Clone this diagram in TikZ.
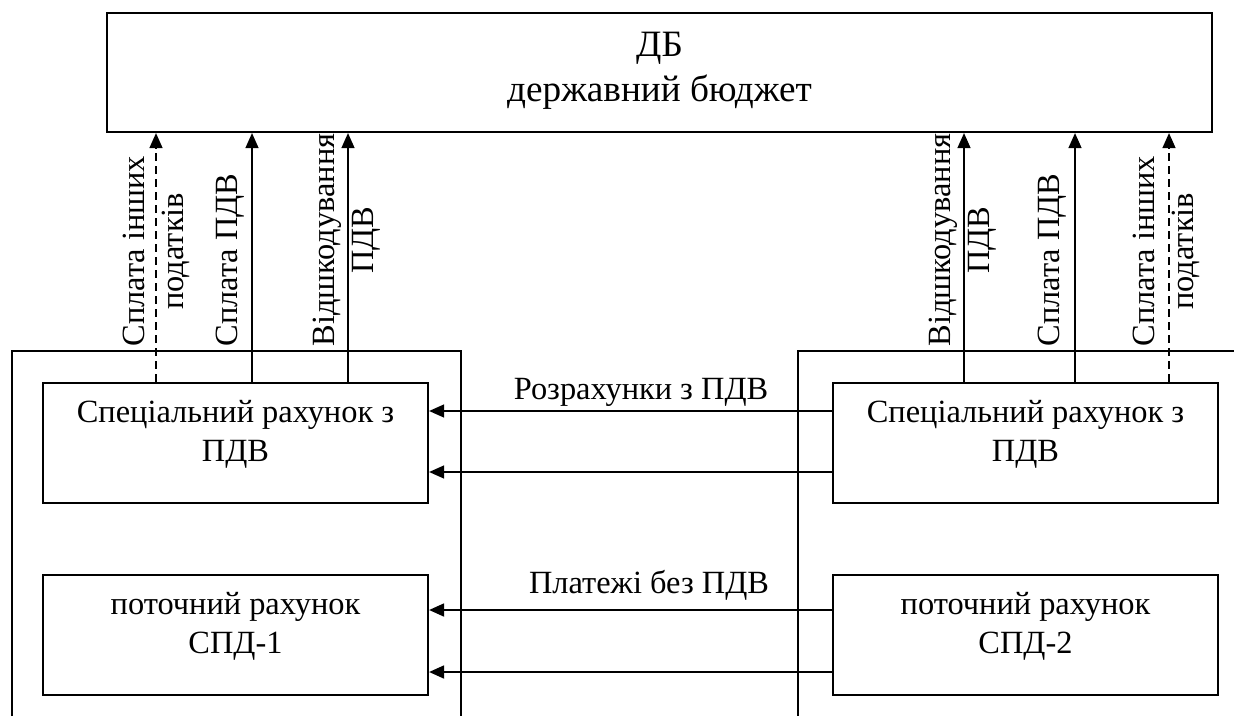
\documentclass[tikz,border=0pt]{standalone}
\usepackage{fontspec}
\setmainfont{Liberation Serif}
\usetikzlibrary{arrows.meta}
\tikzset{
  box/.style={draw, line width=1.1pt, inner sep=0pt},
  lbl/.style={inner sep=0pt, align=center, font=\fontsize{16.2}{19.5}\selectfont},
  biglbl/.style={inner sep=0pt, align=center, font=\fontsize{18.6}{22.5}\selectfont},
  vlbl/.style={lbl, rotate=90, anchor=west},
  arr/.style={line width=0.7pt, -{Triangle[length=7.5pt,width=6.5pt]}},
  thickarr/.style={arr, line width=0.9pt},
  dasharr/.style={arr, dash pattern=on 4pt off 2.5pt},
  frame/.style={line width=1.1pt},
}
\begin{document}
\begin{tikzpicture}[x=0.5pt,y=-0.5pt]
\useasboundingbox (0,0) rectangle (1234,716);
% outer frames
\draw[frame] (12,716) -- (12,351) -- (461,351) -- (461,716);
\draw[frame] (1234,351) -- (798,351) -- (798,716);
% boxes
\node[box, minimum width=552.5pt, minimum height=59.5pt] (db) at (659.5,72.5) {};
\node[biglbl, anchor=base] (dbt) at (659.5,102) {ДБ\\державний бюджет};
\node[box, minimum width=192.5pt, minimum height=60pt] (s1) at (235.5,443) {};
\node[box, minimum width=192.5pt, minimum height=60pt] (p1) at (235.5,635) {};
\node[box, minimum width=192.5pt, minimum height=60pt] (s2) at (1025.5,443) {};
\node[box, minimum width=192.5pt, minimum height=60pt] (p2) at (1025.5,635) {};
\node[lbl, anchor=base] (s1t) at (235.5,461) {Спеціальний рахунок з\\ПДВ};
\node[lbl, anchor=base] (p1t) at (235.5,653) {поточний рахунок\\СПД-1};
\node[lbl, anchor=base] (s2t) at (1025.5,461) {Спеціальний рахунок з\\ПДВ};
\node[lbl, anchor=base] (p2t) at (1025.5,653) {поточний рахунок\\СПД-2};
% x positions of vertical arrows
\coordinate (xa) at (156,0);
\coordinate (xb) at (252,0);
\coordinate (xc) at (348,0);
\coordinate (xd) at (964,0);
\coordinate (xe) at (1075,0);
\coordinate (xf) at (1169,0);
\draw[dasharr] (s1.north -| xa) -- (db.south -| xa);
\draw[arr] (s1.north -| xb) -- (db.south -| xb);
\draw[arr] (s1.north -| xc) -- (db.south -| xc);
\draw[arr] (s2.north -| xd) -- (db.south -| xd);
\draw[arr] (s2.north -| xe) -- (db.south -| xe);
\draw[dasharr] (s2.north -| xf) -- (db.south -| xf);
% vertical labels
\node[vlbl] (la) at (156,347) {Сплата інших\\податків};
\node[vlbl] (lb) at (230,347) {Сплата ПДВ};
\node[vlbl] (lc) at (347,347) {Відшкодування\\ПДВ};
\node[vlbl] (ld) at (963,347) {Відшкодування\\ПДВ};
\node[vlbl] (le) at (1052,347) {Сплата ПДВ};
\node[vlbl] (lf) at (1166,347) {Сплата інших\\податків};
% horizontal arrows
\coordinate (y1) at (0,411);
\coordinate (y2) at (0,472);
\coordinate (y3) at (0,610);
\coordinate (y4) at (0,672);
\draw[arr] (s2.west |- y1) -- (s1.east |- y1);
\draw[arr] (s2.west |- y2) -- (s1.east |- y2);
\draw[thickarr] (p2.west |- y3) -- (p1.east |- y3);
\draw[thickarr] (p2.west |- y4) -- (p1.east |- y4);
\node[lbl, anchor=base] (r1) at (641,399) {Розрахунки з ПДВ};
\node[lbl, anchor=base] (r2) at (649,593) {Платежі без ПДВ};
\end{tikzpicture}
\end{document}
